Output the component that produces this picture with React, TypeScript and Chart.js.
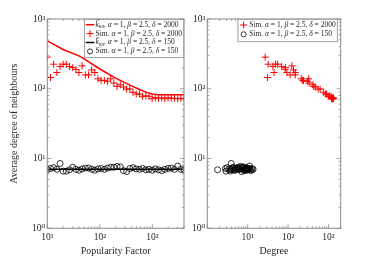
import React, { useEffect, useRef } from "react";
import { Chart, registerables } from "chart.js";

Chart.register(...registerables);

// ---------------- DATA ----------------
const popFactor = [10, 11.5, 13.2, 15.2, 17.5, 20, 23, 26.5, 30.5, 35, 40, 46, 53, 61, 70, 80, 92, 106, 122, 140, 161, 185, 213, 245, 282, 324, 372, 428, 492, 566, 651, 749, 861, 990, 1139, 1310, 1506, 1732, 1992, 2291, 2634, 3030, 3484, 4000];
const simKnn2000 = [284, 145, 225, 171, 209, 225, 225, 209, 201, 190, 171, 213, 158, 158, 186, 171, 139, 132, 132, 128, 139, 121, 108, 114, 106, 99, 99, 89, 84, 84, 78, 79, 78, 72, 75, 73, 74, 72, 74, 73, 73, 72, 73, 72];
const simKnn150 = [6.9, 7.2, 7.4, 7.0, 8.5, 6.6, 6.6, 6.9, 7.5, 7.0, 6.8, 7.1, 7.3, 7.3, 7.0, 6.8, 7.1, 7.2, 7.0, 7.3, 7.5, 7.5, 7.7, 7.6, 6.7, 6.5, 7.2, 7.4, 7.1, 7.0, 7.2, 6.9, 7.0, 6.8, 7.1, 6.9, 6.7, 7.0, 7.2, 7.3, 7.0, 7.8, 7.0, 6.9];
const theoryPop2000 = [10, 20, 43, 100, 200, 400, 600, 800, 1000, 1200, 1500, 4000];
const theoryKnn2000 = [485, 366, 289, 192, 142, 110, 96, 88, 84, 82.5, 82, 82];
const theoryPop150 = [10, 100, 1000, 4000];
const theoryKnn150 = [7.0, 7.0, 7.0, 7.0];
const degree2000 = [27, 31, 32, 45, 42, 49, 55, 69, 86, 84, 93, 124, 112, 150, 136, 150, 212, 229, 240, 300, 323, 330, 430, 410, 470, 552, 620, 760, 850, 900, 980, 1050, 1150, 1200, 1180, 1250, 1300, 1220, 1270, 1320, 1240, 1290, 1260, 1310];
const degree150 = [1.8, 2.8, 3.1, 3.4, 3.9, 2.9, 3.7, 4.1, 4.4, 3.8, 4.6, 5.0, 4.3, 5.3, 5.7, 4.9, 6.1, 5.5, 6.4, 6.9, 5.9, 7.3, 6.6, 7.8, 8.2, 7.1, 8.7, 9.1, 7.6, 9.6, 10.2, 8.4, 10.8, 9.3, 11.3, 8.9, 11.9, 10.5, 12.4, 9.8, 13.6, 11.1, 12.8, 10.0];

const yTickValues = [1, 10, 100, 1000];
const yTickLabels = ["10⁰", "10¹", "10²", "10³"];
const xTickValues = [10, 100, 1000];
const xTickLabels = ["10¹", "10²", "10³"];

const seriesLabels = [
  "k\u0304nn, α = 1, β = 2.5, δ = 2000",
  "Sim. α = 1, β = 2.5, δ = 2000",
  "k\u0304nn, α = 1, β = 2.5, δ = 150",
  "Sim. α = 1, β = 2.5, δ = 150",
];

// ---------------- STYLE ----------------
const FAMILY = "'Liberation Serif', 'DejaVu Serif', serif";
const FRAME = "#8a8a8a";
const TEXT = "#262626";
const RED = "#ff0000";

const pairs = (xs: number[], ys: number[]) => xs.map((x, i) => ({ x, y: ys[i] }));

function minorValues(min: number, max: number) {
  const out: { v: number; major: boolean }[] = [];
  for (let e = -1; e <= 5; e++) {
    const d = Math.pow(10, e);
    for (let m = 1; m <= 9; m++) {
      const v = m * d;
      if (v >= min * 0.999 && v <= max * 1.001) out.push({ v, major: m === 1 });
    }
  }
  return out;
}

const framePlugin = {
  id: "matFrame",
  afterDatasetsDraw(chart: any) {
    const { ctx, chartArea: a } = chart;
    const xs = chart.scales.x;
    const ys = chart.scales.y;
    ctx.save();
    ctx.strokeStyle = FRAME;
    ctx.lineWidth = 0.8;
    ctx.beginPath();
    for (const t of minorValues(xs.min, xs.max)) {
      const px = xs.getPixelForValue(t.v);
      const L = t.major ? 4 : 2;
      ctx.moveTo(px, a.bottom);
      ctx.lineTo(px, a.bottom - L);
      ctx.moveTo(px, a.top);
      ctx.lineTo(px, a.top + L);
    }
    for (const t of minorValues(ys.min, ys.max)) {
      const py = ys.getPixelForValue(t.v);
      const L = t.major ? 4 : 2;
      ctx.moveTo(a.left, py);
      ctx.lineTo(a.left + L, py);
      ctx.moveTo(a.right, py);
      ctx.lineTo(a.right - L, py);
    }
    ctx.stroke();
    ctx.lineWidth = 1;
    ctx.strokeRect(a.left, a.top, a.right - a.left, a.bottom - a.top);
    ctx.restore();
  },
};

function drawRich(ctx: CanvasRenderingContext2D, text: string, x: number, y: number, size: number) {
  ctx.textBaseline = "middle";
  ctx.textAlign = "left";
  ctx.fillStyle = TEXT;
  ctx.strokeStyle = TEXT;
  let cx = x;
  let rest = text;
  const head = "k\u0304nn";
  if (rest.startsWith(head)) {
    ctx.font = `italic ${size}px ${FAMILY}`;
    ctx.fillText("k", cx, y);
    const kw = ctx.measureText("k").width;
    ctx.beginPath();
    ctx.lineWidth = 0.6;
    ctx.moveTo(cx + 0.8, y - size * 0.62);
    ctx.lineTo(cx + kw + 0.6, y - size * 0.62);
    ctx.stroke();
    cx += kw;
    ctx.font = `italic ${size * 0.7}px ${FAMILY}`;
    ctx.fillText("nn", cx, y + size * 0.28);
    cx += ctx.measureText("nn").width;
    rest = rest.slice(head.length);
  }
  const parts = rest.split(/([αβδ])/);
  for (const p of parts) {
    if (!p) continue;
    ctx.font = /[αβδ]/.test(p) ? `italic ${size}px ${FAMILY}` : `${size}px ${FAMILY}`;
    ctx.fillText(p, cx, y);
    cx += ctx.measureText(p).width;
  }
  return cx - x;
}

function measureRich(ctx: CanvasRenderingContext2D, text: string, size: number) {
  ctx.save();
  ctx.globalAlpha = 0;
  const w = drawRich(ctx, text, -1000, -1000, size);
  ctx.restore();
  return w;
}

const legendPlugin = {
  id: "matLegend",
  afterDraw(chart: any, _args: any, opts: any) {
    if (!opts || !opts.show) return;
    const { ctx, chartArea: a } = chart;
    const size = opts.fontSize;
    const dsets = chart.data.datasets;
    ctx.save();
    let tw = 0;
    for (const ds of dsets) tw = Math.max(tw, measureRich(ctx, ds.label, size));
    const padL = 1.4, sampleW = 8.6, gap = 1.2, padR = 1.6;
    const w = padL + sampleW + gap + tw + padR;
    const h = opts.firstRow + (dsets.length - 1) * opts.rowH + opts.lastPad;
    const right = a.right - opts.rightInset;
    const left = right - w;
    const top = a.top + opts.topInset;
    ctx.fillStyle = "#ffffff";
    ctx.fillRect(left, top, w, h);
    ctx.strokeStyle = FRAME;
    ctx.lineWidth = 0.8;
    ctx.strokeRect(left, top, w, h);
    dsets.forEach((ds: any, i: number) => {
      const cy = top + opts.firstRow + i * opts.rowH;
      const sx = left + padL;
      const mx = sx + sampleW / 2;
      if (ds.showLine) {
        ctx.strokeStyle = ds.borderColor;
        ctx.lineWidth = ds.borderWidth;
        ctx.beginPath();
        ctx.moveTo(sx, cy);
        ctx.lineTo(sx + sampleW, cy);
        ctx.stroke();
      } else if (ds.pointStyle === "cross") {
        const r = ds.pointRadius;
        ctx.strokeStyle = ds.borderColor;
        ctx.lineWidth = ds.borderWidth;
        ctx.beginPath();
        ctx.moveTo(mx - r, cy);
        ctx.lineTo(mx + r, cy);
        ctx.moveTo(mx, cy - r);
        ctx.lineTo(mx, cy + r);
        ctx.stroke();
      } else {
        ctx.strokeStyle = ds.borderColor;
        ctx.lineWidth = ds.borderWidth;
        ctx.beginPath();
        ctx.arc(mx, cy, ds.pointRadius * 0.85, 0, Math.PI * 2);
        ctx.stroke();
      }
      drawRich(ctx, ds.label, sx + sampleW + gap, cy, size);
    });
    ctx.restore();
  },
};

function makeScales(opts: {
  xMin: number;
  xMax: number;
  xTitle: string;
  yTitle?: string;
  yWidth: number;
  xHeight: number;
}) {
  const tickFont = { family: FAMILY, size: 9.5 };
  const titleFont = { family: FAMILY, size: 10 };
  return {
    x: {
      type: "logarithmic",
      min: opts.xMin,
      max: opts.xMax,
      afterBuildTicks: (s: any) => {
        s.ticks = xTickValues.map((v) => ({ value: v }));
      },
      ticks: {
        autoSkip: false,
        maxRotation: 0,
        padding: 3,
        color: TEXT,
        font: tickFont,
        callback: (v: any) => {
          const i = xTickValues.indexOf(Number(v));
          return i >= 0 ? xTickLabels[i] : "";
        },
      },
      grid: { display: false, drawTicks: false },
      border: { display: false },
      title: { display: true, text: opts.xTitle, color: TEXT, font: titleFont, padding: { top: 3, bottom: 0 } },
      afterFit: (s: any) => {
        s.height = opts.xHeight;
      },
    },
    y: {
      type: "logarithmic",
      min: 1,
      max: 1000,
      afterBuildTicks: (s: any) => {
        s.ticks = yTickValues.map((v) => ({ value: v }));
      },
      ticks: {
        autoSkip: false,
        padding: 2,
        color: TEXT,
        font: tickFont,
        callback: (v: any) => {
          const i = yTickValues.indexOf(Number(v));
          return i >= 0 ? yTickLabels[i] : "";
        },
      },
      grid: { display: false, drawTicks: false },
      border: { display: false },
      title: {
        display: !!opts.yTitle,
        text: opts.yTitle || "",
        color: TEXT,
        font: titleFont,
        padding: { top: 8, bottom: 0 },
      },
      afterFit: (s: any) => {
        s.width = opts.yWidth;
      },
    },
  };
}

function useChart(ref: React.RefObject<HTMLCanvasElement | null>, build: () => any) {
  useEffect(() => {
    if (!ref.current) return;
    const chart = new Chart(ref.current, build());
    return () => chart.destroy();
  }, []);
}

export default function App() {
  const leftRef = useRef<HTMLCanvasElement | null>(null);
  const rightRef = useRef<HTMLCanvasElement | null>(null);

  useChart(leftRef, () => ({
    type: "scatter",
    data: {
      datasets: [
        {
          label: seriesLabels[0],
          data: pairs(theoryPop2000, theoryKnn2000),
          showLine: true,
          borderColor: RED,
          borderWidth: 1.5,
          pointRadius: 0,
          pointStyle: "line",
          tension: 0,
        },
        {
          label: seriesLabels[1],
          data: pairs(popFactor, simKnn2000),
          showLine: false,
          pointStyle: "cross",
          pointRadius: 3.5,
          borderColor: RED,
          borderWidth: 1,
        },
        {
          label: seriesLabels[2],
          data: pairs(theoryPop150, theoryKnn150),
          showLine: true,
          borderColor: "#000000",
          borderWidth: 1.5,
          pointRadius: 0,
          pointStyle: "line",
        },
        {
          label: seriesLabels[3],
          data: pairs(popFactor, simKnn150),
          showLine: false,
          pointStyle: "circle",
          pointRadius: 3,
          borderColor: "#000000",
          backgroundColor: "rgba(0,0,0,0)",
          borderWidth: 0.8,
        },
      ],
    },
    options: {
      animation: false,
      responsive: false,
      devicePixelRatio: 1,
      layout: { padding: { left: 0, right: 6, top: 19, bottom: 0 } },
      scales: makeScales({
        xMin: 10,
        xMax: 4000,
        xTitle: "Popularity Factor",
        yTitle: "Average degree of neighbours",
        yWidth: 47.3,
        xHeight: 28.7,
      }),
      plugins: {
        legend: { display: false },
        tooltip: { enabled: false },
        matLegend: { show: true, fontSize: 7.5, rowH: 8.9, firstRow: 5.4, lastPad: 6, rightInset: 0.3, topInset: 0.3 },
      },
    },
    plugins: [framePlugin, legendPlugin],
  }));

  useChart(rightRef, () => ({
    type: "scatter",
    data: {
      datasets: [
        {
          label: seriesLabels[1],
          data: pairs(degree2000, simKnn2000),
          showLine: false,
          pointStyle: "cross",
          pointRadius: 3.5,
          borderColor: RED,
          borderWidth: 1,
        },
        {
          label: seriesLabels[3],
          data: pairs(degree150, simKnn150),
          showLine: false,
          pointStyle: "circle",
          pointRadius: 3,
          borderColor: "#000000",
          backgroundColor: "rgba(0,0,0,0)",
          borderWidth: 0.8,
        },
      ],
    },
    options: {
      animation: false,
      responsive: false,
      devicePixelRatio: 1,
      layout: { padding: { left: 0, right: 185 - 150.7, top: 19, bottom: 0 } },
      scales: makeScales({
        xMin: 1,
        xMax: 2000,
        xTitle: "Degree",
        yWidth: 207.3 - 190,
        xHeight: 28.7,
      }),
      plugins: {
        legend: { display: false },
        tooltip: { enabled: false },
        matLegend: { show: true, fontSize: 7.5, rowH: 9.3, firstRow: 5.7, lastPad: 7.4, rightInset: 3.4, topInset: 0.3 },
      },
    },
    plugins: [framePlugin, legendPlugin],
  }));

  return (
    <div style={{ position: "fixed", left: 0, top: 0, width: 375, height: 257, background: "#ffffff" }}>
      <canvas ref={leftRef} width={190} height={257} style={{ position: "absolute", left: 0, top: 0 }} />
      <canvas ref={rightRef} width={185} height={257} style={{ position: "absolute", left: 190, top: 0 }} />
    </div>
  );
}
